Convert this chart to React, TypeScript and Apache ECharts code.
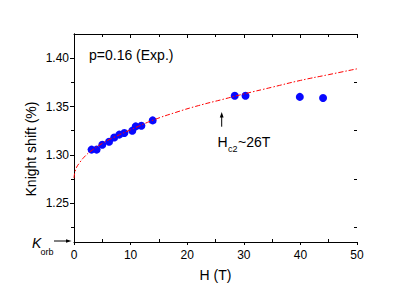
import React, { useEffect, useRef } from "react";
import * as echarts from "echarts";

const FONT = "'Liberation Sans', Arial, Helvetica, sans-serif";

// Experimental points (H in T, Knight shift in %)
const expH = [3.1, 4.0, 5.0, 6.2, 7.1, 8.0, 8.9, 10.3, 10.9, 11.9, 13.9, 28.4, 30.3, 39.9, 44.0];
const expK = [1.3055, 1.3055, 1.3106, 1.3137, 1.318, 1.321, 1.3227, 1.325, 1.3295, 1.3302, 1.3357, 1.3611, 1.3611, 1.360, 1.3588];

// Dash-dot fit curve
const fitH = [0, 0.3, 1, 2, 3, 5, 7, 10, 14, 18, 22, 26, 30, 35, 40, 45, 50];
const fitK = [1.276, 1.285, 1.292, 1.299, 1.304, 1.312, 1.318, 1.326, 1.336, 1.344, 1.351, 1.357, 1.363, 1.37, 1.377, 1.383, 1.389];

const yMajor = [1.25, 1.3, 1.35, 1.4];
const yMinor = [1.225, 1.275, 1.325, 1.375];
const xMinor = [5, 15, 25, 35, 45];

export default function App() {
  const ref = useRef<HTMLDivElement>(null);
  useEffect(() => {
    if (!ref.current) return;
    const chart = echarts.init(ref.current, undefined, { renderer: "svg" });
    const line = { show: true, lineStyle: { color: "#000", width: 1 } };
    const noLine = { show: false };
    const yMin = 1.21;
    const yMax = 1.425;
    chart.setOption({
      animation: false,
      backgroundColor: "#fff",
      grid: { left: 74, right: 58, top: 34, bottom: 49, containLabel: false },
      xAxis: [
        {
          type: "value", position: "bottom", min: 0, max: 50, interval: 10,
          axisLine: line, splitLine: { show: false },
          axisTick: { show: true, inside: false, length: 3, lineStyle: { color: "#000" } },
          axisLabel: { color: "#000", fontSize: 12, fontFamily: FONT, margin: 7 },
          name: "H (T)", nameLocation: "middle", nameGap: 26,
          nameTextStyle: { color: "#000", fontSize: 14, fontFamily: FONT },
        },
        {
          type: "value", position: "bottom", min: 0, max: 50,
          axisLine: noLine, splitLine: { show: false },
          axisTick: { show: true, inside: true, length: 3, customValues: xMinor, lineStyle: { color: "#000" } },
          axisLabel: { show: false },
        },
        {
          type: "value", position: "top", min: 0, max: 50, interval: 10,
          axisLine: line, splitLine: { show: false },
          axisTick: { show: true, inside: true, length: 4, lineStyle: { color: "#000" } },
          minorTick: { show: true, splitNumber: 2, length: 3, lineStyle: { color: "#000" } },
          axisLabel: { show: false },
        },
      ],
      yAxis: [
        {
          type: "value", position: "left", min: yMin, max: yMax,
          axisLine: line, splitLine: { show: false },
          axisTick: { show: true, inside: false, length: 4, customValues: yMajor, lineStyle: { color: "#000" } },
          axisLabel: {
            color: "#000", fontSize: 12, fontFamily: FONT, margin: 5, customValues: yMajor,
            formatter: (v: number) => v.toFixed(2),
          },
        },
        {
          type: "value", position: "left", min: yMin, max: yMax,
          axisLine: noLine, splitLine: { show: false },
          axisTick: { show: true, inside: false, length: 3, customValues: yMinor, lineStyle: { color: "#000" } },
          axisLabel: { show: false },
        },
        {
          type: "value", position: "right", min: yMin, max: yMax,
          axisLine: line, splitLine: { show: false },
          axisTick: { show: true, inside: true, length: 4, customValues: yMajor, lineStyle: { color: "#000" } },
          axisLabel: { show: false },
        },
        {
          type: "value", position: "right", min: yMin, max: yMax,
          axisLine: noLine, splitLine: { show: false },
          axisTick: { show: true, inside: true, length: 3, customValues: yMinor, lineStyle: { color: "#000" } },
          axisLabel: { show: false },
        },
      ],
      series: [
        {
          type: "scatter", xAxisIndex: 0, yAxisIndex: 0, symbolSize: 8,
          data: expH.map((h, i) => [h, expK[i]]),
          itemStyle: { color: "#0808ff", opacity: 1 },
          z: 2,
        },
        {
          type: "line", xAxisIndex: 0, yAxisIndex: 0, smooth: true, showSymbol: false,
          data: fitH.map((h, i) => [h, fitK[i]]),
          lineStyle: { color: "#ff0000", width: 1, type: [5, 2, 1.5, 2] },
          z: 3,
        },
      ],
      graphic: [
        { type: "text", x: 31, y: 149, rotation: Math.PI / 2,
          style: { text: "Knight shift (%)", fontSize: 14, fontFamily: FONT, fill: "#000", align: "center", verticalAlign: "middle" } },
        { type: "text", x: 89, y: 54.5,
          style: { text: "p=0.16 (Exp.)", fontSize: 14, fontFamily: FONT, fill: "#000", align: "left", verticalAlign: "middle" } },
        { type: "text", x: 217.5, y: 142.4,
          style: { text: "H", fontSize: 14, fontFamily: FONT, fill: "#000", align: "left", verticalAlign: "middle" } },
        { type: "text", x: 228, y: 148.6,
          style: { text: "c2", fontSize: 9, fontFamily: FONT, fill: "#000", align: "left", verticalAlign: "middle" } },
        { type: "text", x: 238, y: 142.4,
          style: { text: "~26T", fontSize: 14, fontFamily: FONT, fill: "#000", align: "left", verticalAlign: "middle" } },
        { type: "line", shape: { x1: 221.7, y1: 126.7, x2: 221.7, y2: 116 }, style: { stroke: "#000", lineWidth: 1 } },
        { type: "polygon", shape: { points: [[219.8, 117.5], [223.6, 117.5], [221.7, 112]] }, style: { fill: "#000" } },
        { type: "text", x: 32, y: 242.8,
          style: { text: "K", fontSize: 14, fontStyle: "italic", fontFamily: FONT, fill: "#000", align: "left", verticalAlign: "middle" } },
        { type: "text", x: 40.5, y: 252.2,
          style: { text: "orb", fontSize: 9, fontFamily: FONT, fill: "#000", align: "left", verticalAlign: "middle" } },
        { type: "line", shape: { x1: 54, y1: 241, x2: 67, y2: 241 }, style: { stroke: "#000", lineWidth: 1 } },
        { type: "polygon", shape: { points: [[66, 239.2], [66, 242.8], [71.5, 241]] }, style: { fill: "#000" } },
      ],
    });
    return () => chart.dispose();
  }, []);
  return (
    <div
      ref={ref}
      style={{ position: "fixed", left: 0, top: 0, width: 415, height: 291, background: "#fff" }}
    />
  );
}
